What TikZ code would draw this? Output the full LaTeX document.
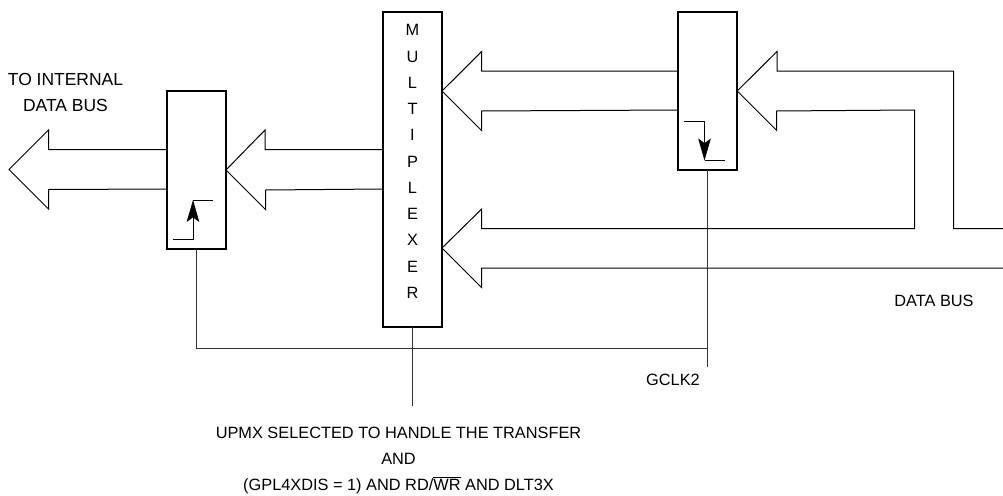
\documentclass[tikz,border=0pt]{standalone}
\usepackage{fontspec}
\setmainfont{Liberation Sans}
\usetikzlibrary{arrows.meta}
\begin{document}
\begin{tikzpicture}[
    x=0.75pt,y=-0.75pt,
    latch/.style={draw=black,line width=1.5pt,fill=white,inner sep=0pt,outer sep=0pt,minimum width=44.25pt},
    label/.style={align=center,inner sep=0pt,font=\fontsize{12.25}{19.7}\selectfont},
    biglabel/.style={label,font=\fontsize{13.1}{19.7}\selectfont},
    bus/.style={draw=black,line width=0.75pt,line join=miter},
    wire/.style={draw=black!80,line width=0.75pt},
    edge/.style={draw=black,line width=0.75pt},
    edgearr/.style={edge,-{Stealth[length=16.5pt,width=9.5pt,inset=3.5pt]}}
  ]
    \useasboundingbox (0,0) rectangle (1003,496);

    \coordinate (rowA) at (0,71);
    \coordinate (rowB) at (0,110);
    \coordinate (rowC) at (0,149.5);
    \coordinate (rowD) at (0,189);
    \coordinate (outtip) at (9,169.5);
    \coordinate (turnA) at (953.7,228.5);
    \coordinate (turnB) at (914.5,228.5);
    \coordinate (busE) at (1003,228.5);
    \coordinate (busF) at (1003,268);
    \coordinate (muxlow) at (442,248);
    \coordinate (clkjoin) at (707.7,348.5);
    \coordinate (clkend) at (707.7,366.5);
    \coordinate (selend) at (412.5,406);

    \node[latch,minimum height=118.5pt] (latchL) at (196.5,170) {};
    \node[latch,minimum height=236.25pt] (mux) at (412.5,169.5) {};
    \node[latch,minimum height=118pt] (latchR) at (707.7,91) {};
    \coordinate (muxup) at (mux.east |- latchR.east);

    \node[label] (muxtext) at (412.5,161.5) {M\\U\\L\\T\\I\\P\\L\\E\\X\\E\\R};
    \node[biglabel] (tolabel) at (65.5,92.5) {TO INTERNAL\\DATA BUS};
    \node[label] (buslabel) at (934,301) {DATA BUS};
    \node[label] (clklabel) at (673,380) {GCLK2};
    \node[label] (sellabel) at (398.5,460.5) {UPMX SELECTED TO HANDLE THE TRANSFER\\AND\\(GPL4XDIS = 1) AND RD/$\overline{\mbox{WR}}$ AND DLT3X};

    \draw[bus] (latchL.west |- rowC) -- ++(-118.5,0) -- ++(0,-19.5) -- (outtip) -- ++(39.5,39.5) -- ++(0,-19.5) -- (latchL.west |- rowD);
    \draw[bus] (mux.west |- rowC) -- ++(-118,0) -- ++(0,-19.5) -- (latchL.east) -- ++(39.5,39.5) -- ++(0,-19.5) -- (mux.west |- rowD);
    \draw[bus] (latchR.west |- rowA) -- ++(-196.5,0) -- ++(0,-19.5) -- (muxup) -- ++(39.5,39.5) -- ++(0,-19.5) -- (latchR.west |- rowB);
    \draw[bus] (busE) -- (turnA) -- (turnA |- rowA) -- ++(-176.7,0) -- ++(0,-19.5) -- (latchR.east) -- ++(39.5,39.5) -- ++(0,-19.5) -- (turnB |- rowB) -- (turnB) -- ++(-432.8,0) -- ++(0,-19.5) -- (muxlow) -- ++(39.5,39.5) -- ++(0,-19.5) -- (busF);

    \draw[wire] (latchR.south) -- (clkend);
    \draw[wire] (latchL.south) -- (latchL.south |- clkjoin) -- (clkjoin);
    \draw[wire] (mux.south) -- (selend);

    % clock edges inside the two latches
    \draw[edgearr] (173,239.3) -- (193,239.3) -- (193,200);
    \draw[edge] (193,200) -- (213,200);
    \draw[edgearr] (684.3,121) -- (704.5,121) -- (704.5,160.5);
    \draw[edge] (704.5,160.5) -- (725,160.5);
\end{tikzpicture}
\end{document}
